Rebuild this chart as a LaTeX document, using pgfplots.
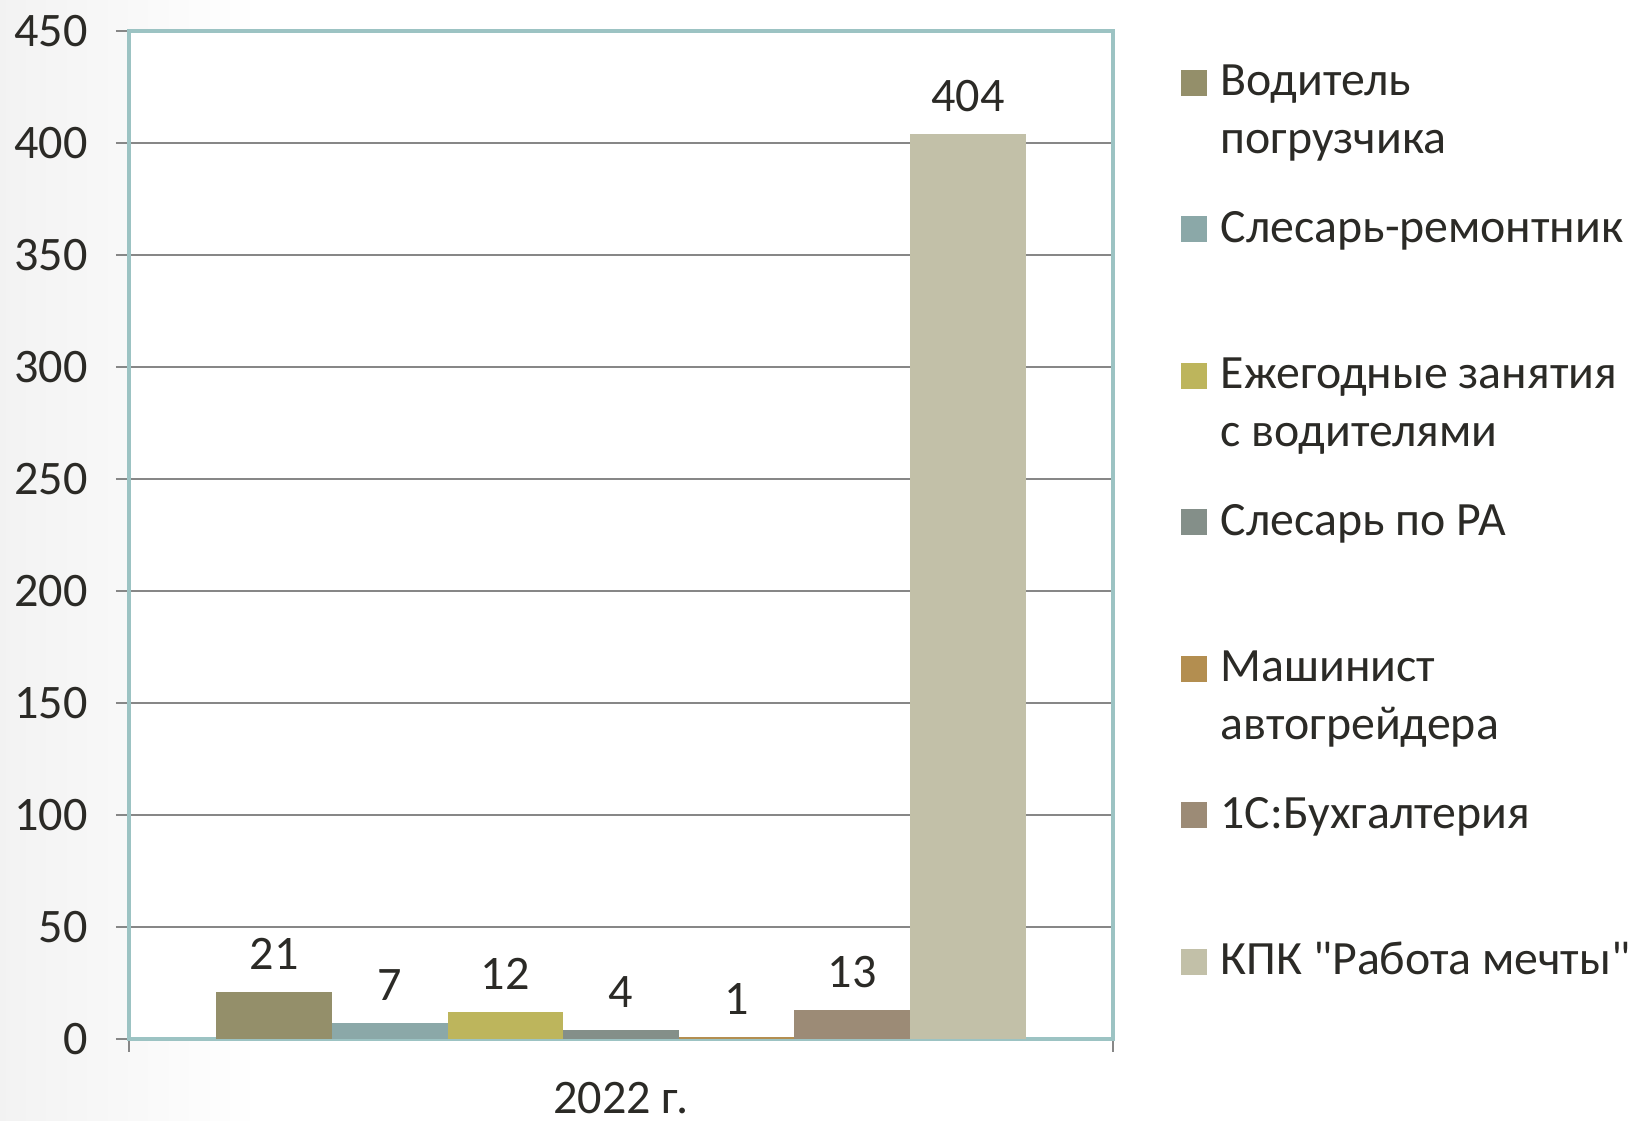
\documentclass[border=0pt]{standalone}
\usepackage{pgfplots}
\pgfplotsset{compat=1.18}
\usepackage{fontspec}
\setmainfont{Carlito}[Ligatures=TeXOff]
\definecolor{cA}{RGB}{148,143,106}
\definecolor{cB}{RGB}{139,168,168}
\definecolor{cC}{RGB}{189,181,92}
\definecolor{cD}{RGB}{132,143,137}
\definecolor{cE}{RGB}{179,142,80}
\definecolor{cF}{RGB}{156,139,118}
\definecolor{cG}{RGB}{194,192,168}
\definecolor{frame}{RGB}{156,195,195}
\definecolor{gridgray}{RGB}{135,135,135}
\definecolor{txt}{RGB}{43,42,38}
\newcommand{\two}[2]{\begin{tabular}[t]{@{}l@{}}#1\\#2\end{tabular}}
\begin{document}
\begin{tikzpicture}
\path[use as bounding box] (0,0) rectangle (16.33cm,11.21cm);
\shade[left color=black!5, right color=white] (0,0) rectangle (2.6cm,11.21cm);
\begin{axis}[
  at={(1.29cm,0.82cm)}, anchor=south west,
  scale only axis, width=9.84cm, height=10.08cm,
  xmin=-0.5, xmax=0.5, ymin=0, ymax=450,
  ytick={0,50,...,450},
  xtick={-0.5,0.5}, xticklabels={},
  tick pos=left,
  xlabel={2022 г.},
  xlabel style={at={(axis description cs:0.5,0)}, anchor=base, yshift=-7.5mm, font=\fontsize{13.7}{16}\selectfont, text=txt},
  tick align=outside, major tick length=1.3mm,
  tick style={draw=gridgray, line width=0.22mm},
  ymajorgrids, grid style={draw=gridgray, line width=0.22mm},
  axis line style={draw=frame, line width=0.4mm},
  axis background/.style={fill=white},
  /pgf/number format/assume math mode=true,
  tick label style={font=\fontsize{13.7}{16}\selectfont, text=txt},
  yticklabel style={xshift=-1.6mm},
  ybar=0pt, bar width=0.1175,
  every axis plot/.append style={draw=none},
  every axis plot post/.append style={legend image code/.code={\fill[##1] (0mm,0mm) rectangle (2.6mm,2.6mm);}},
  nodes near coords,
  nodes near coords style={font=\fontsize{13.7}{16}\selectfont, text=txt, yshift=1.0mm},
  legend style={at={(axis description cs:1,1)}, anchor=north west, xshift=6.7mm, yshift=-3.4mm,
    draw=none, fill=none, inner sep=0pt, row sep=0pt, column sep=1.4mm,
    font=\fontsize{13.6}{16.5}\selectfont, text=txt,
    nodes={text height=3mm, text depth=11.65mm, inner sep=0pt, anchor=base west}},
  legend cell align=left,
]
\draw[gridgray, line width=0.22mm] ([xshift=-0.3mm]rel axis cs:0,0) -- ([xshift=-0.3mm]rel axis cs:0,1);
\addplot[fill=cA] coordinates {(0,21)};
\addlegendentry{\two{Водитель}{погрузчика}}
\addplot[fill=cB] coordinates {(0,7)};
\addlegendentry{Слесарь-ремонтник}
\addplot[fill=cC] coordinates {(0,12)};
\addlegendentry{\two{Ежегодные занятия}{с водителями}}
\addplot[fill=cD] coordinates {(0,4)};
\addlegendentry{Слесарь по РА}
\addplot[fill=cE] coordinates {(0,1)};
\addlegendentry{\two{Машинист}{автогрейдера}}
\addplot[fill=cF] coordinates {(0,13)};
\addlegendentry{1С:Бухгалтерия}
\addplot[fill=cG] coordinates {(0,404)};
\addlegendentry{КПК "Работа мечты"}
\end{axis}
\end{tikzpicture}
\end{document}
